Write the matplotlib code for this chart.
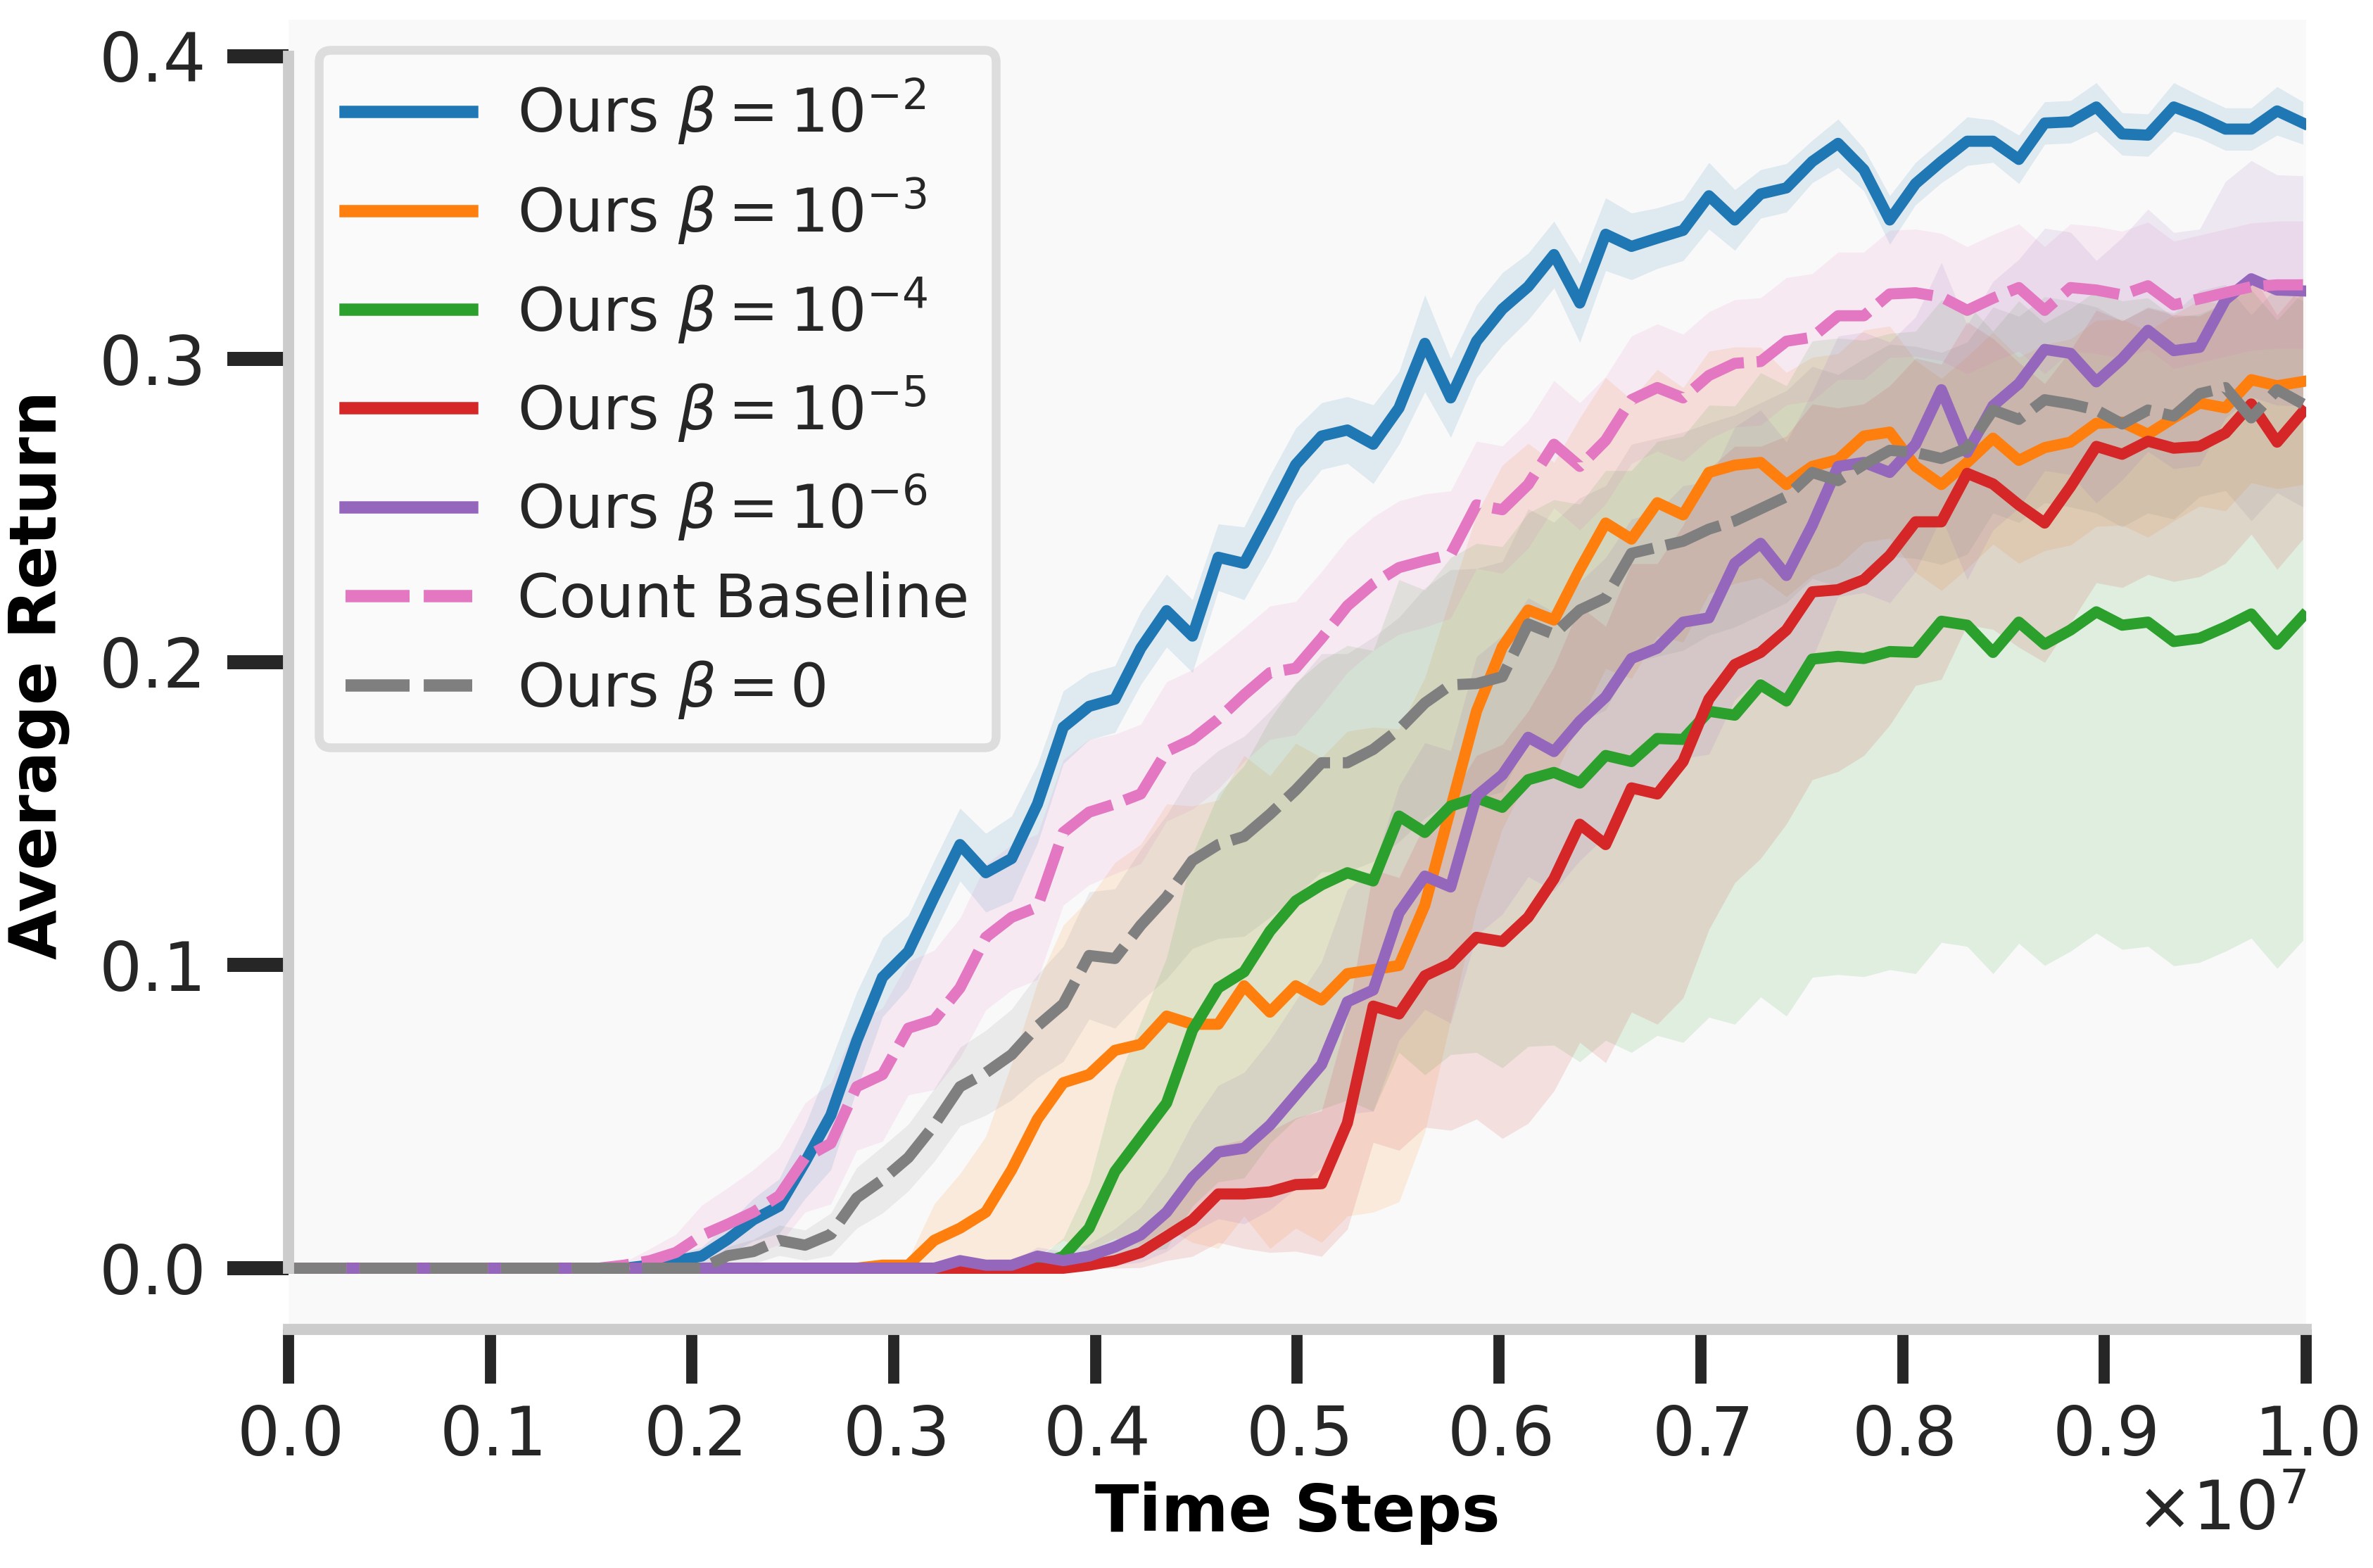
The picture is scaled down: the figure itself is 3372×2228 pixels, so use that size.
import numpy as np
import matplotlib.pyplot as plt
from matplotlib.ticker import ScalarFormatter

# logged every 128k steps
steps = np.arange(79) * 128000

ours_1e2 = [0]*14 + [
    .001, .0025, .004, .0095, .016, .0205, .035,
    .0505, .075, .096, .1045, .1225, .1398, .1305,
    .1352, .1532, .1785, .1854, .1878, .2046, .217,
    .2086, .2346, .2326, .2486, .2652, .2746, .2766,
    .2719, .2839, .3052, .2872, .3059, .3165, .3239,
    .3345, .3185, .3412, .3372, .3399, .3425, .3539,
    .3459, .3545, .3565, .3652, .3712, .3625, .3459,
    .3579, .3652, .3719, .3719, .3659, .3779, .3783,
    .3832, .3743, .3739, .3832, .3799, .3759, .3759,
    .3819, .3779]
ours_1e2_std = [0]*14 + [
    .001, .002, .003, .005, .007, .009, .012,
    .018, .016, .013, .012, .012, .012, .013,
    .014, .013, .012, .011, .011, .012, .012,
    .012, .011, .012, .013, .012, .011, .011,
    .013, .012, .016, .013, .012, .012, .011,
    .011, .013, .012, .011, .010, .010, .011,
    .010, .008, .008, .007, .008, .007, .008,
    .007, .007, .008, .007, .008, .007, .007,
    .008, .007, .007, .008, .007, .007, .007,
    .008, .007]

ours_1e3 = [0]*23 + [
    .001, .001,
    .0092, .0132, .0185, .0325, .0492, .0612, .0639,
    .0719, .0739, .0832, .0805, .0805, .0932, .0845,
    .0932, .0885, .0972, .0985, .0999, .1198, .1518,
    .1838, .205, .2172, .2139, .2306, .2459, .2406,
    .2526, .2486, .2626, .265, .2659, .2586, .2646,
    .2668, .2746, .2759, .2646, .2586, .2659, .2739,
    .2666, .2708, .2726, .2788, .2792, .2752, .2806,
    .2855, .2839, .2932, .2912, .2926]
ours_1e3_std = [0]*23 + [
    .001, .002,
    .012, .018, .025, .035, .045, .052, .058,
    .062, .066, .07, .072, .074, .076, .078,
    .08, .08, .08, .08, .078, .075, .07,
    .065, .06, .055, .052, .05, .048, .046,
    .044, .042, .04, .039, .038, .037, .036,
    .035, .035, .035, .035, .035, .035, .035,
    .034, .034, .034, .034, .034, .034, .034,
    .034, .034, .034, .034, .034]

ours_1e4 = [0]*29 + [
    .001, .0039, .0132, .0319, .0432, .0545, .0785,
    .0925, .0978, .1112, .1212, .1265, .1305, .1278,
    .1492, .1438, .1525, .1552, .1521, .1612, .1636,
    .1601, .1692, .1672, .1748, .1745, .1838, .1825,
    .1925, .1872, .201, .2019, .2012, .2035, .2032,
    .2135, .2122, .2032, .2132, .2059, .2106, .2166,
    .2122, .2132, .2068, .2079, .2116, .2159, .2059,
    .2152]
ours_1e4_std = [0]*29 + [
    .002, .006, .015, .028, .038, .048, .058,
    .064, .068, .07, .072, .074, .075, .076,
    .078, .08, .082, .084, .086, .088, .09,
    .092, .094, .096, .098, .1, .101, .102,
    .103, .104, .105, .105, .105, .105, .106,
    .106, .106, .106, .106, .106, .106, .106,
    .107, .107, .107, .107, .107, .107, .107,
    .107]

ours_1e5 = [0]*31 + [
    .001, .0025, .0052, .0105, .0159, .0245, .0245,
    .0252, .0276, .0279, .0479, .0865, .0839, .0965,
    .1005, .1092, .1078, .1158, .1285, .1465, .1398,
    .1585, .1565, .1672, .1878, .1992, .2032, .2106,
    .2232, .2239, .2272, .2352, .2463, .2463, .2623,
    .2588, .2519, .2459, .2579, .2712, .2686, .2729,
    .2706, .2712, .2756, .2852, .2726, .2826]
ours_1e5_std = [0]*31 + [
    .001, .003, .005, .008, .012, .016, .018,
    .02, .022, .024, .035, .045, .045, .05,
    .055, .06, .065, .068, .07, .072, .072,
    .074, .076, .078, .076, .072, .068, .064,
    .062, .06, .058, .056, .054, .052, .05,
    .048, .047, .046, .045, .045, .044, .044,
    .044, .043, .043, .043, .042, .042]

ours_1e6 = [0]*26 + [
    .0025, .001, .001, .004, .0025, .004, .007,
    .011, .0185, .0299, .0383, .0396, .0472, .0572,
    .0672, .0879, .0918, .1172, .1294, .1258, .1558,
    .1628, .1752, .1705, .1805, .1885, .2012, .2046,
    .2132, .2146, .2326, .2392, .2286, .2452, .2646,
    .2659, .2626, .2719, .2899, .2692, .2846, .2919,
    .3032, .3019, .2925, .3001, .3095, .3028, .3039,
    .3196, .3265, .3228, .3225]
ours_1e6_std = [0]*26 + [
    .002, .001, .001, .003, .003, .004, .006,
    .009, .013, .018, .022, .025, .028, .031,
    .034, .037, .04, .042, .044, .045, .046,
    .046, .046, .046, .046, .046, .046, .045,
    .045, .045, .045, .044, .044, .044, .043,
    .043, .043, .042, .042, .042, .041, .041,
    .04, .04, .04, .04, .04, .039, .039,
    .039, .039, .038, .038]

count_baseline = [0]*13 + [
    .001,
    .0025, .0052, .0108, .0145, .0185, .0239, .0365,
    .0412, .0599, .0639, .0792, .0819, .0925, .1092,
    .1158, .1192, .1438, .1505, .1532, .1565, .1705,
    .1745, .1812, .1892, .1965, .198, .2079, .2186,
    .2259, .2312, .2335, .2355, .2519, .2503, .2586,
    .2719, .2646, .2732, .2866, .2906, .2872, .2946,
    .2986, .2992, .3059, .3072, .3143, .3143, .3215,
    .3219, .3205, .3161, .3201, .3236, .3161, .3236,
    .3228, .3212, .3242, .3179, .3199, .3219, .3239,
    .3245, .3245]
count_baseline_std = [0]*13 + [
    .001,
    .004, .006, .010, .012, .014, .016, .018,
    .02, .021, .022, .022, .023, .023, .024,
    .024, .024, .024, .024, .023, .023, .023,
    .023, .023, .022, .022, .022, .022, .022,
    .022, .022, .022, .021, .021, .021, .021,
    .021, .021, .021, .021, .021, .021, .021,
    .021, .021, .021, .021, .021, .021, .021,
    .021, .021, .021, .021, .021, .021, .021,
    .021, .021, .021, .021, .021, .021, .021,
    .021, .021]

ours_0 = [0]*17 + [
    .0041, .0055, .0092, .0076, .0112, .0232, .0292,
    .0365, .0472, .0599, .0645, .0705, .0799, .0872,
    .1032, .1022, .1132, .1225, .1345, .1398, .1425,
    .1498, .1578, .1668, .1668, .1712, .1778, .1865,
    .1925, .1929, .1952, .2126, .2092, .2172, .2212,
    .2359, .2379, .2399, .2439, .2466, .2506, .2546,
    .2626, .2599, .2652, .2699, .2692, .2672, .2706,
    .2832, .2801, .2866, .2852, .2832, .2786, .2832,
    .2812, .2886, .2906, .2806, .2899, .2852]
ours_0_std = [0]*17 + [
    .003, .004, .005, .005, .007, .010, .011,
    .011, .012, .013, .014, .015, .017, .019,
    .021, .023, .025, .027, .029, .031, .033,
    .034, .035, .036, .036, .037, .037, .038,
    .038, .038, .038, .038, .037, .037, .037,
    .036, .036, .036, .035, .035, .035, .035,
    .035, .035, .035, .035, .035, .035, .035,
    .034, .034, .034, .034, .034, .034, .034,
    .034, .034, .034, .034, .034, .034]

runs = [
    (r'Ours $\beta=10^{-2}$', ours_1e2, ours_1e2_std, '#1f77b4', '-'),
    (r'Ours $\beta=10^{-3}$', ours_1e3, ours_1e3_std, '#ff7f0e', '-'),
    (r'Ours $\beta=10^{-4}$', ours_1e4, ours_1e4_std, '#2ca02c', '-'),
    (r'Ours $\beta=10^{-5}$', ours_1e5, ours_1e5_std, '#d62728', '-'),
    (r'Ours $\beta=10^{-6}$', ours_1e6, ours_1e6_std, '#9467bd', '-'),
    ('Count Baseline', count_baseline, count_baseline_std, '#e377c2', '--'),
    (r'Ours $\beta=0$', ours_0, ours_0_std, '#7f7f7f', '--'),
]

plt.rcParams['font.family'] = ['DejaVu Sans']
plt.rcParams['text.color'] = '#262626'

fig = plt.figure(figsize=(3372 / 300, 2228 / 300), dpi=300)
ax = fig.add_axes([410 / 3372, 339 / 2228, 2867 / 3372, 1861 / 2228])
ax.set_facecolor('#f9f9f9')

for label, mean, std, color, ls in runs:
    mean = np.array(mean)
    std = np.array(std)
    line, = ax.plot(steps, mean, color=color, lw=3.8, label=label, ls=ls)
    if ls == '--':
        line.set_dashes((5.2, 1.15))
    ax.fill_between(steps, np.clip(mean - std, 0, None), mean + std,
                    color=color, alpha=0.12, lw=0)

ax.set_xlim(0, 1e7)
ax.set_ylim(-0.0202, 0.412)
ax.set_xticks(np.arange(0, 1.01e7, 1e6))
ax.set_yticks([0.0, 0.1, 0.2, 0.3, 0.4])
fmt = ScalarFormatter(useMathText=True)
fmt.set_powerlimits((0, 0))
ax.xaxis.set_major_formatter(fmt)
ax.xaxis.get_offset_text().set_fontsize(23)
ax.xaxis.get_offset_text().set_color('#262626')

for side in ['top', 'right']:
    ax.spines[side].set_visible(False)
for side in ['left', 'bottom']:
    ax.spines[side].set_color('#cccccc')
    ax.spines[side].set_linewidth(3.8)
ax.spines['left'].set_bounds(0, 0.4)
ax.spines['bottom'].set_bounds(0, 1e7)

ax.tick_params(color='#262626', labelsize=23, labelcolor='#262626', pad=7)
ax.tick_params(axis='x', length=18.5, width=3.8)
ax.tick_params(axis='y', length=21, width=4.8)

ax.set_xlabel('Time Steps', fontsize=22, fontweight='bold', color='black', labelpad=4)
ax.set_ylabel('Average Return', fontsize=22, fontweight='bold', color='black', labelpad=10)

leg = ax.legend(loc='upper left', fontsize=20.5, handlelength=2.1, handletextpad=0.75,
                labelspacing=0.48, borderpad=0.45, fancybox=True, framealpha=1)
leg.get_frame().set_facecolor('#fafafa')
leg.get_frame().set_edgecolor('#dddddd')
leg.get_frame().set_linewidth(3)
for line in leg.get_lines():
    line.set_linewidth(4.2)

fig.savefig('out.png', dpi=300, facecolor='white')
